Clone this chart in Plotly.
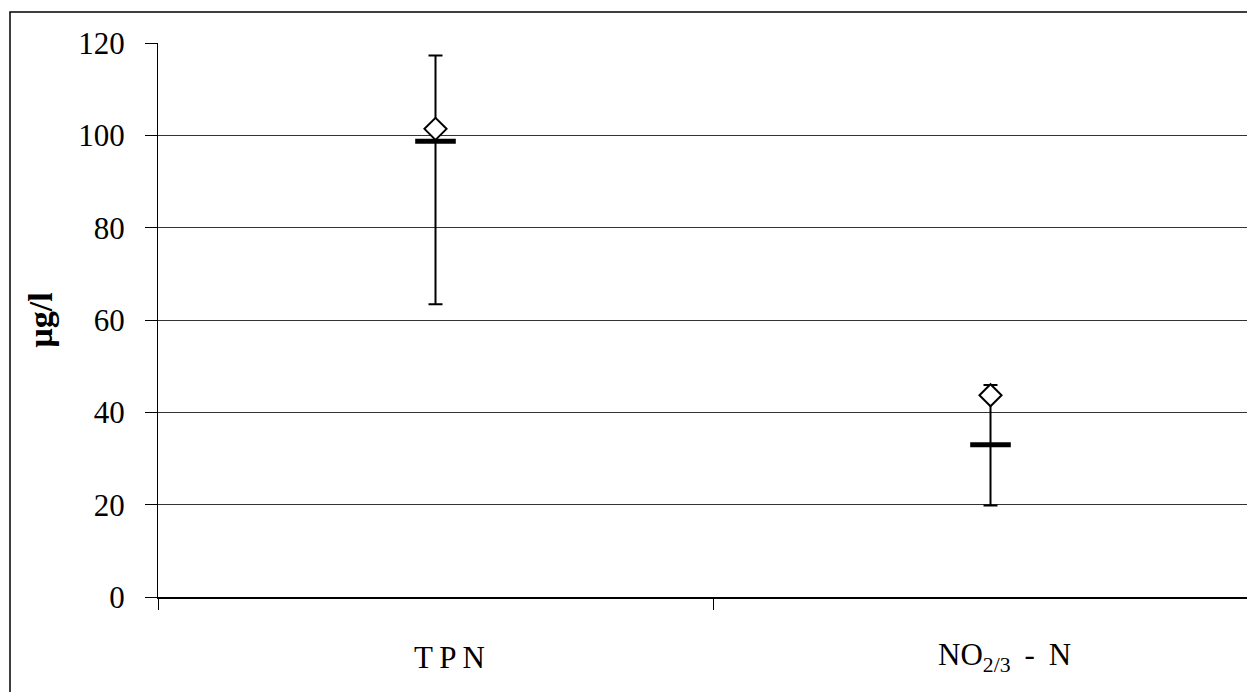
import plotly.graph_objects as go

categories = ["T\u2009P\u2009N", "NO<sub>2/3</sub>\u2009 - \u2009N"]
x_pos = [0, 1]
max_vals = [117.3, 45.9]
min_vals = [63.4, 19.8]
median_vals = [98.7, 33.0]
mean_vals = [101.4, 43.7]
y_ticks = [0, 20, 40, 60, 80, 100, 120]

FONT = "Liberation Serif, Times New Roman, serif"

fig = go.Figure()

fig.add_trace(go.Scatter(
    x=x_pos, y=median_vals, mode="markers",
    marker=dict(size=1, color="rgba(0,0,0,0)"),
    error_y=dict(type="data", symmetric=False,
                 array=[mx - md for mx, md in zip(max_vals, median_vals)],
                 arrayminus=[md - mn for md, mn in zip(median_vals, min_vals)],
                 color="black", thickness=2, width=7),
    showlegend=False, hoverinfo="skip"))

fig.add_trace(go.Scatter(
    x=x_pos, y=median_vals, mode="markers",
    marker=dict(symbol="line-ew", size=29, line=dict(color="black", width=5)),
    showlegend=False))

fig.add_trace(go.Scatter(
    x=x_pos, y=mean_vals, mode="markers",
    marker=dict(symbol="diamond", size=17, color="white", line=dict(color="black", width=2)),
    showlegend=False))

for xp, lab in zip(x_pos, categories):
    fig.add_annotation(x=xp, y=0, xref="x", yref="y", text=lab, showarrow=False,
                       yshift=-60, xshift=14, font=dict(family=FONT, size=31, color="black"))

fig.add_shape(type="rect", xref="paper", yref="paper",
              x0=(10 - 158) / 1097, x1=1.2, y0=-0.6, y1=1 + (43 - 12) / 554,
              line=dict(color="black", width=1.5), fillcolor="rgba(0,0,0,0)", layer="below")

fig.update_layout(
    width=1247, height=684,
    margin=dict(l=150, r=0, t=35, b=95),
    paper_bgcolor="white", plot_bgcolor="white",
    font=dict(family=FONT, size=31, color="black"),
    xaxis=dict(range=[-0.5, -0.5 + 1097 / 555], tickvals=[-0.5, 0.5, 1.5], showticklabels=False,
               ticks="outside", ticklen=11, tickcolor="black", tickwidth=1,
               showgrid=False, zeroline=False, showline=True, linecolor="black", linewidth=2),
    yaxis=dict(range=[0, 120], tickvals=y_ticks, ticks="outside", ticklen=12, tickcolor="black",
               tickwidth=1, showgrid=True, gridcolor="#333333", gridwidth=1, zeroline=False,
               showline=True, linecolor="black", linewidth=1, ticklabelstandoff=14,
               tickfont=dict(family=FONT, size=31),
               title=dict(text="<b>µg/l</b>", font=dict(family=FONT, size=34), standoff=15)),
)

fig.write_html("out.html")
